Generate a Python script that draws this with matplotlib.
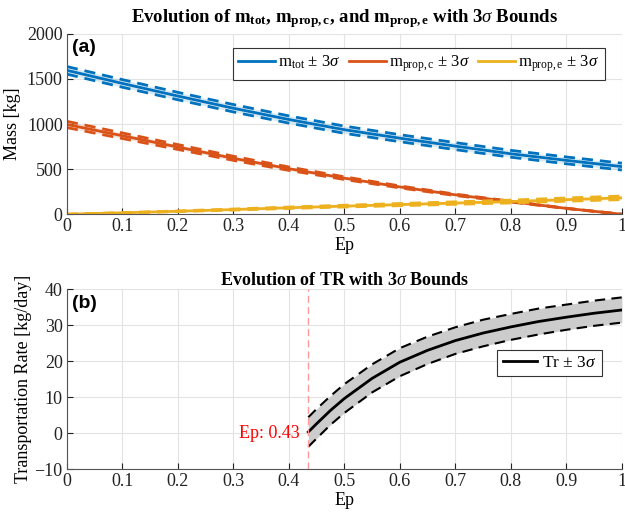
import matplotlib
matplotlib.use('Agg')
import matplotlib.pyplot as plt
import numpy as np

plt.rcParams['font.family'] = ['Liberation Serif', 'DejaVu Serif']
plt.rcParams['mathtext.fontset'] = 'custom'
plt.rcParams['mathtext.rm'] = 'Liberation Serif'
plt.rcParams['mathtext.it'] = 'Liberation Serif:italic'
plt.rcParams['mathtext.bf'] = 'Liberation Serif:bold'

# Panel (a) data: mass vs Ep
ep = np.array([0.0, 0.1, 0.2, 0.3, 0.4, 0.5, 0.6, 0.7, 0.8, 0.9, 1.0])
m_tot = np.array([1595, 1450, 1310, 1175, 1050, 937, 843, 755, 670, 597, 528])
m_tot_3s = np.array([42, 42, 41, 41, 40, 40, 39, 39, 38, 38, 38])
m_c = np.array([995, 870, 745, 620, 505, 400, 303, 215, 140, 65, 0])
m_c_3s = np.array([35, 31, 27, 23, 19, 15, 11, 8, 5, 2, 0])
m_e = np.array([0, 16, 33, 52, 72, 90, 107, 124, 141, 162, 182])
m_e_3s = np.array([0, 2, 4, 6, 8, 10, 12, 14, 16, 18, 20])

# Panel (b) data: transportation rate
ep_tr = np.array([0.435, 0.45, 0.475, 0.5, 0.55, 0.6, 0.65, 0.7, 0.75, 0.8, 0.85, 0.9, 0.95, 1.0])
tr = np.array([0.3, 2.6, 6.3, 9.6, 15.2, 19.7, 23.0, 25.7, 27.8, 29.5, 31.0, 32.2, 33.3, 34.2])
tr_3s = np.array([4.1, 4.1, 4.0, 4.0, 3.9, 3.9, 3.8, 3.7, 3.7, 3.6, 3.6, 3.5, 3.5, 3.5])
ep_min = 0.435

c_blue = '#0072BD'
c_red = '#D95319'
c_yel = '#EDB120'

fig = plt.figure(figsize=(6.25, 5.2), dpi=100)
ax1 = fig.add_axes([0.107, 0.588, 0.888, 0.347])
ax2 = fig.add_axes([0.107, 0.098, 0.888, 0.346])

def style(ax):
    ax.grid(True, color='#e3e3e3', lw=0.8)
    ax.set_axisbelow(True)
    for s in ['top', 'right']:
        ax.spines[s].set_visible(False)
    for s in ['left', 'bottom']:
        ax.spines[s].set_color('#555555')
    ax.tick_params(direction='in', labelsize=13, colors='#222222', length=4, pad=3)
    ax.set_xlim(0, 1)
    ax.set_xticks(np.arange(0, 1.01, 0.1))
    ax.set_xticklabels(['0', '0.1', '0.2', '0.3', '0.4', '0.5', '0.6', '0.7', '0.8', '0.9', '1'])

style(ax1)
series = [(m_tot, m_tot_3s, c_blue, r'm$_{\mathrm{tot}}$'),
          (m_c, m_c_3s, c_red, r'm$_{\mathrm{prop,c}}$'),
          (m_e, m_e_3s, c_yel, r'm$_{\mathrm{prop,e}}$')]
handles = []
for m, s, c, name in series:
    ax1.fill_between(ep, m - s, m + s, color=c, alpha=0.15, lw=0)
    h, = ax1.plot(ep, m, color=c, lw=2, label=name + r' ± 3$\it{\sigma}$')
    ax1.plot(ep, m + s, color=c, lw=2, ls=(0, (4, 2.5)))
    ax1.plot(ep, m - s, color=c, lw=2, ls=(0, (4, 2.5)))
    handles.append(h)
ax1.set_ylim(0, 2000)
ax1.set_yticks([0, 500, 1000, 1500, 2000])
ax1.set_xlabel('Ep', fontsize=13, labelpad=1)
ax1.set_ylabel('Mass [kg]', fontsize=13, labelpad=4)
ax1.set_title(r'Evolution of $\mathbf{m}_{\mathbf{tot}}$, $\mathbf{m}_{\mathbf{prop,c}}$, and '
              r'$\mathbf{m}_{\mathbf{prop,e}}$ with 3$\sigma$ Bounds',
              fontsize=13.5, fontweight='bold', pad=8)
leg1 = ax1.legend(handles=handles, loc='upper right', ncol=3, fontsize=12,
                  frameon=True, fancybox=False, edgecolor='#333333', framealpha=1,
                  handlelength=2.2, columnspacing=0.5, handletextpad=0.2,
                  borderpad=0.35, borderaxespad=0.5, bbox_to_anchor=(0.985, 0.97))
leg1.get_frame().set_linewidth(0.8)
ax1.text(0.01, 0.97, '(a)', transform=ax1.transAxes, fontsize=14, fontweight='bold',
         family='Liberation Sans', va='top', ha='left')

style(ax2)
ax2.fill_between(ep_tr, tr - tr_3s, tr + tr_3s, color='#cccccc', lw=0)
h2, = ax2.plot(ep_tr, tr, color='black', lw=2, label=r'Tr ± 3$\it{\sigma}$')
ax2.plot(ep_tr, tr + tr_3s, color='black', lw=1.5, ls=(0, (5, 3)))
ax2.plot(ep_tr, tr - tr_3s, color='black', lw=1.5, ls=(0, (5, 3)))
ax2.axvline(ep_min, color='#ff9999', lw=1, ls=(0, (5, 3)))
ax2.text(ep_min - 0.015, 0, 'Ep: %.2f' % ep_min, color='red', fontsize=13,
         ha='right', va='center')
ax2.set_ylim(-10, 40)
ax2.set_yticks([-10, 0, 10, 20, 30, 40])
ax2.set_xlabel('Ep', fontsize=13, labelpad=1)
ax2.set_ylabel('Transportation Rate [kg/day]', fontsize=13, labelpad=2)
ax2.set_title(r'Evolution of TR with 3$\sigma$ Bounds', fontsize=13, fontweight='bold', pad=3)
leg2 = ax2.legend(handles=[h2], loc='center right', fontsize=12.5, frameon=True, fancybox=False,
                  edgecolor='#333333', framealpha=1, handlelength=2.0, handletextpad=0.3,
                  borderpad=0.3, bbox_to_anchor=(0.98, 0.59))
leg2.get_frame().set_linewidth(0.8)
ax2.text(0.01, 0.97, '(b)', transform=ax2.transAxes, fontsize=14, fontweight='bold',
         family='Liberation Sans', va='top', ha='left')

fig.savefig('out.png', dpi=100)
